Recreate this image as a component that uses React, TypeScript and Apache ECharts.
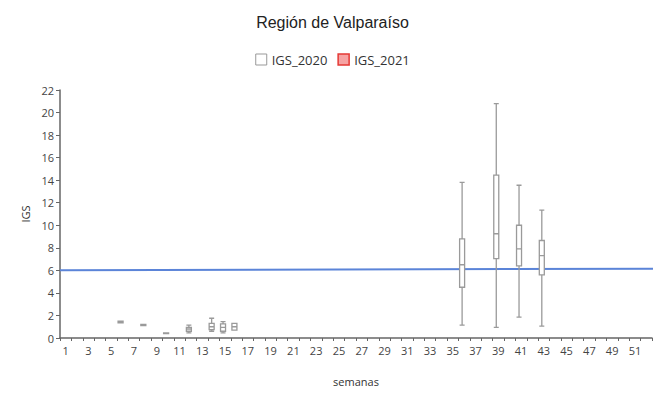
import React, { useEffect, useRef } from "react";
import * as echarts from "echarts";

const weeks: string[] = Array.from({ length: 52 }, (_, i) => String(i + 1));
const boxWeeks = [6, 8, 10, 12, 14, 15, 16, 36, 39, 41, 43];
const mins = [1.35, 1.1, 0.4, 0.45, 0.6, 0.45, 0.7, 1.15, 0.95, 1.85, 1.05];
const q1s = [1.35, 1.1, 0.4, 0.6, 0.75, 0.6, 0.7, 4.5, 7.05, 6.4, 5.6];
const medians = [1.4, 1.15, 0.42, 0.8, 1.0, 0.95, 1.0, 6.5, 9.25, 7.9, 7.3];
const q3s = [1.5, 1.2, 0.45, 0.95, 1.3, 1.25, 1.3, 8.8, 14.45, 10.0, 8.65];
const maxs = [1.5, 1.2, 0.45, 1.15, 1.75, 1.45, 1.3, 13.8, 20.8, 13.55, 11.35];
const refLine = [
  [0.5, 6.0],
  [52.8, 6.15],
];
const yTicks = { min: 0, max: 22, interval: 2 };

export default function App() {
  const ref = useRef<HTMLDivElement>(null);
  useEffect(() => {
    document.body.style.margin = "0";
    if (!ref.current) return;
    const chart = echarts.init(ref.current, undefined, { renderer: "svg" });
    const data2020 = weeks.map((w) => {
      const idx = boxWeeks.indexOf(Number(w));
      if (idx < 0) return "-";
      return [mins[idx], q1s[idx], medians[idx], q3s[idx], maxs[idx]];
    });
    const font = "'Open Sans', 'Noto Sans', sans-serif";
    chart.setOption({
      animation: false,
      backgroundColor: "#ffffff",
      title: {
        text: "Región de Valparaíso",
        left: "center",
        top: 9,
        textStyle: {
          fontFamily: "'Liberation Sans', Arial, sans-serif",
          fontSize: 16,
          fontWeight: "normal",
          color: "#222",
        },
      },
      legend: {
        top: 48,
        left: "center",
        itemWidth: 11,
        itemHeight: 11,
        itemGap: 10,
        textStyle: { fontFamily: font, fontSize: 13, color: "#333" },
        data: [
          {
            name: "IGS_2020",
            icon: "rect",
            itemStyle: { color: "#ffffff", borderColor: "#999", borderWidth: 1 },
          },
          {
            name: "IGS_2021",
            icon: "rect",
            itemStyle: { color: "#f6a3a3", borderColor: "#e53935", borderWidth: 1.5 },
          },
        ],
      },
      grid: { left: 60, right: 13, top: 90, bottom: 66 },
      xAxis: [
        {
          type: "category",
          data: weeks,
          name: "semanas",
          nameLocation: "middle",
          nameGap: 38,
          nameTextStyle: { fontFamily: font, fontSize: 11, color: "#333" },
          axisLine: { lineStyle: { color: "#666", width: 1.5 } },
          axisTick: { show: true, interval: 0, length: 3, lineStyle: { color: "#666" } },
          axisLabel: { interval: 1, fontFamily: font, fontSize: 11, color: "#444", margin: 7 },
          splitLine: { show: false },
        },
        {
          type: "value",
          min: 0.5,
          max: 52.5,
          show: false,
        },
      ],
      yAxis: {
        type: "value",
        min: yTicks.min,
        max: yTicks.max,
        interval: yTicks.interval,
        name: "IGS",
        nameLocation: "middle",
        nameGap: 27,
        nameRotate: 90,
        nameTextStyle: { fontFamily: font, fontSize: 11, color: "#333" },
        axisLine: { show: true, lineStyle: { color: "#666", width: 1.5 } },
        axisTick: { show: true, length: 4, lineStyle: { color: "#666" } },
        axisLabel: { fontFamily: font, fontSize: 11, color: "#444", margin: 6 },
        splitLine: { show: false },
      },
      series: [
        {
          name: "IGS_2020",
          type: "boxplot",
          data: data2020,
          boxWidth: [5, 5],
          itemStyle: { color: "#ffffff", borderColor: "#9a9a9a", borderWidth: 1.3 },
        },
        {
          name: "IGS_2021",
          type: "boxplot",
          data: weeks.map(() => "-"),
          boxWidth: [5, 5],
          itemStyle: { color: "#f6a3a3", borderColor: "#e53935" },
        },
        {
          name: "ref",
          type: "line",
          xAxisIndex: 1,
          data: refLine,
          symbol: "none",
          clip: false,
          lineStyle: { color: "#5b84d8", width: 2 },
          z: 1,
        },
      ],
    });
    return () => chart.dispose();
  }, []);
  return <div ref={ref} style={{ width: 665, height: 404 }} />;
}
